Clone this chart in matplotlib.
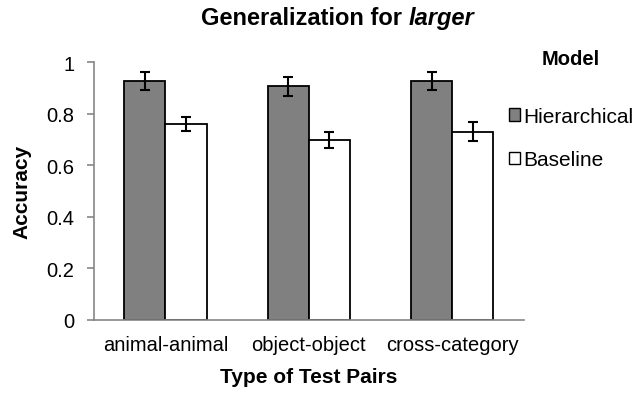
import numpy as np
import matplotlib.pyplot as plt
from matplotlib.patches import Patch

plt.rcParams["font.family"] = ["Liberation Sans", "DejaVu Sans"]

categories = ["animal-animal", "object-object", "cross-category"]
hier_acc = [0.925, 0.906, 0.925]
hier_err = [0.035, 0.037, 0.035]
base_acc = [0.760, 0.698, 0.730]
base_err = [0.027, 0.030, 0.037]

x = np.arange(len(categories))
w = 0.287
fs = 14.5

fig = plt.figure(figsize=(6.38, 4.02), dpi=100)
ax = fig.add_axes([0.147, 0.2015, 0.674, 0.6415])

err_kw = dict(elinewidth=1.5, capsize=3.8, capthick=1.5, ecolor="black")
ax.bar(x - w / 2, hier_acc, w, yerr=hier_err, color="#808080",
       edgecolor="black", linewidth=1.3, error_kw=err_kw, label="Hierarchical")
ax.bar(x + w / 2, base_acc, w, yerr=base_err, color="white",
       edgecolor="black", linewidth=1.3, error_kw=err_kw, label="Baseline")

ax.set_xlim(-0.5, 2.5)
ax.set_ylim(0, 1)
ax.set_yticks([0, 0.2, 0.4, 0.6, 0.8, 1])
ax.set_yticklabels(["0", "0.2", "0.4", "0.6", "0.8", "1"])
ax.set_xticks(x)
ax.set_xticklabels(categories)
ax.tick_params(axis="y", length=5, color="#868686", width=1.2, labelsize=fs, pad=9)
ax.tick_params(axis="x", length=0, labelsize=fs, pad=11)

for s in ["top", "right"]:
    ax.spines[s].set_visible(False)
for s in ["left", "bottom"]:
    ax.spines[s].set_color("#868686")
    ax.spines[s].set_linewidth(1.2)

ax.set_ylabel("Accuracy", fontsize=15, fontweight="bold", labelpad=11)
ax.set_xlabel("Type of Test Pairs", fontsize=15, fontweight="bold", labelpad=9)

fig.text(0.641, 0.953, "Generalization for ", fontsize=17, fontweight="bold",
         ha="right", va="center")
fig.text(0.641, 0.953, "larger", fontsize=17, fontweight="bold",
         style="italic", ha="left", va="center")

handles = [Patch(facecolor="#808080", edgecolor="black", linewidth=1),
           Patch(facecolor="white", edgecolor="black", linewidth=1)]
leg = fig.legend(handles, ["Hierarchical", "Baseline"], title="Model",
                 loc="upper left", bbox_to_anchor=(0.781, 0.902),
                 frameon=False, fontsize=15, handlelength=0.55, handleheight=0.55,
                 handletextpad=0.15, labelspacing=1.18, borderpad=0)
leg.get_title().set_fontweight("bold")
leg.get_title().set_fontsize(14.5)
leg._legend_box.sep = 28

fig.savefig("out.png", dpi=100)
